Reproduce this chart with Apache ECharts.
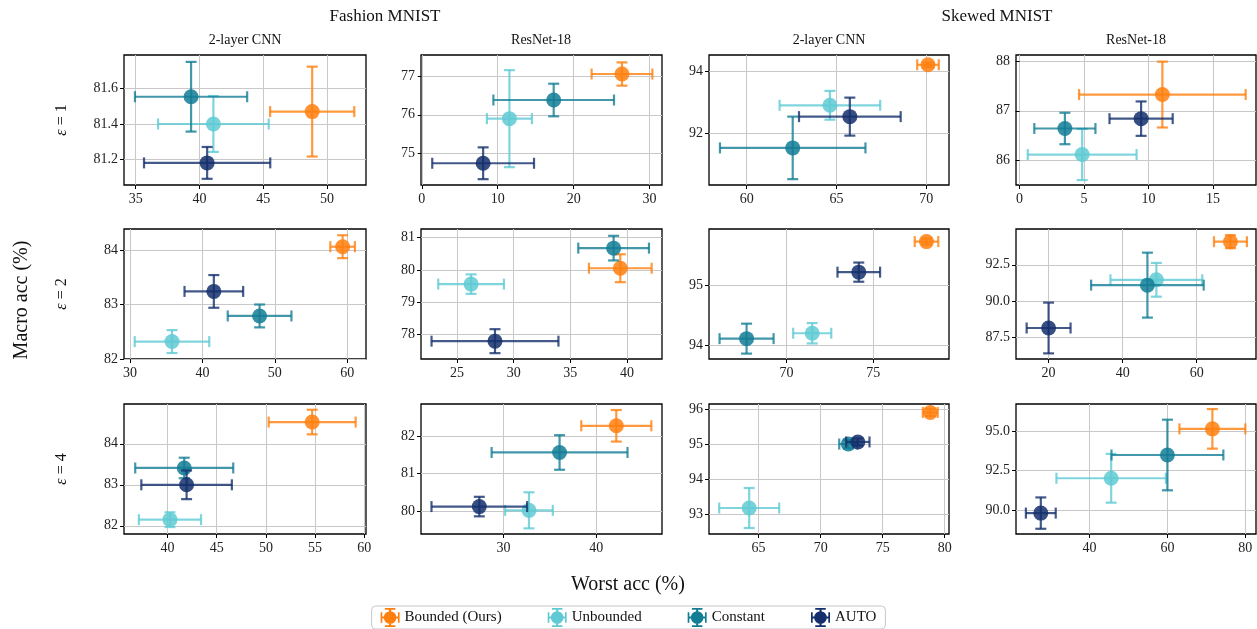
<!DOCTYPE html>
<html>
<head>
<meta charset="utf-8">
<script src="https://cdn.jsdelivr.net/npm/echarts@6/dist/echarts.min.js"></script>
<style>
  html, body { margin: 0; padding: 0; background: #fff; }
  #main { width: 1257px; height: 629px; }
</style>
</head>
<body>
<div id="main"></div>
<script>
// panels go row by row: eps = 1, 2, 4; columns FM-CNN, FM-ResNet, SK-CNN, SK-ResNet
var methods = ['Bounded (Ours)', 'Unbounded', 'Constant', 'AUTO'];
var datasets = ['Fashion MNIST', 'Skewed MNIST'];
var models = ['2-layer CNN', 'ResNet-18', '2-layer CNN', 'ResNet-18'];
var epsilons = ['1', '2', '4'];

// [worst acc, macro acc, worst acc err, macro acc err]
var bounded = [
  [48.84, 81.47, 3.30, 0.254], [26.36, 77.05, 4.00, 0.30], [70.09, 94.22, 0.60, 0.08], [11.07, 87.33, 6.46, 0.67],
  [59.37, 84.06, 1.70, 0.21], [39.41, 80.05, 2.77, 0.43], [78.08, 95.73, 0.68, 0.05], [69.10, 94.10, 4.45, 0.45],
  [54.70, 84.53, 4.42, 0.30], [42.16, 82.27, 3.78, 0.42], [78.84, 95.90, 0.60, 0.10], [71.54, 95.13, 8.46, 1.25]
];
var unbounded = [
  [41.09, 81.40, 4.34, 0.158], [11.54, 75.90, 2.96, 1.25], [64.63, 92.90, 2.80, 0.47], [4.85, 86.11, 4.22, 0.52],
  [35.80, 82.32, 5.15, 0.21], [26.24, 79.56, 2.90, 0.30], [71.48, 94.20, 1.10, 0.17], [49.10, 91.46, 12.4, 1.17],
  [40.25, 82.15, 3.16, 0.18], [32.74, 80.02, 2.57, 0.48], [64.24, 93.18, 2.42, 0.57], [45.56, 92.01, 14.05, 1.54]
];
var constant = [
  [39.34, 81.554, 4.40, 0.197], [17.37, 76.38, 7.94, 0.42], [62.56, 91.51, 4.05, 1.02], [3.51, 86.64, 2.37, 0.32],
  [47.90, 82.79, 4.40, 0.21], [38.82, 80.67, 3.12, 0.38], [67.69, 94.11, 1.56, 0.25], [46.68, 91.09, 15.2, 2.25],
  [41.70, 83.41, 4.98, 0.25], [36.04, 81.56, 7.33, 0.46], [72.23, 95.00, 0.73, 0.12], [60.00, 93.48, 14.36, 2.23]
];
var auto = [
  [40.60, 81.18, 4.95, 0.09], [8.08, 74.75, 6.70, 0.41], [65.74, 92.53, 2.83, 0.62], [9.42, 86.84, 2.45, 0.35],
  [41.58, 83.24, 4.05, 0.30], [28.35, 77.80, 5.60, 0.37], [74.17, 95.22, 1.23, 0.16], [20.00, 88.12, 5.93, 1.76],
  [41.94, 83.00, 4.60, 0.35], [27.38, 80.12, 5.16, 0.26], [73.00, 95.06, 0.94, 0.10], [27.50, 89.81, 3.83, 0.99]
];

var xRanges = [
  [34.08, 53.06], [-0.1, 31.63], [57.9, 71.26], [-0.28, 18.33],
  [29.17, 62.6], [21.82, 43.09], [65.52, 79.38], [11.2, 76.0],
  [35.58, 60.17], [21.09, 47.09], [61.0, 80.35], [21.13, 82.74]
];
var yRanges = [
  [81.055, 81.79], [74.19, 77.54], [90.30, 94.54], [85.49, 88.135],
  [82.0, 84.385], [77.25, 81.26], [93.77, 95.94], [85.97, 94.98],
  [81.8, 84.97], [79.39, 82.85], [92.44, 96.14], [88.49, 96.7]
];
var xTicks = [
  [35, 40, 45, 50], [0, 10, 20, 30], [60, 65, 70], [0, 5, 10, 15],
  [30, 40, 50, 60], [25, 30, 35, 40], [70, 75], [20, 40, 60],
  [40, 45, 50, 55, 60], [30, 40], [65, 70, 75, 80], [40, 60, 80]
];
var yTicks = [
  [81.2, 81.4, 81.6], [75, 76, 77], [92, 94], [86, 87, 88],
  [82, 83, 84], [78, 79, 80, 81], [94, 95], [87.5, 90, 92.5],
  [82, 83, 84], [80, 81, 82], [93, 94, 95, 96], [90, 92.5, 95]
];
var yDecimals = [1, 0, 0, 0, 0, 0, 0, 1, 0, 0, 0, 1];

var allData = [bounded, unbounded, constant, auto];
var colors = ['#ff7f0e', '#5fcad4', '#137d95', '#142f6c'];
var FONT = "'Liberation Serif', 'DejaVu Serif', serif";

var colLeft = [124, 421, 709, 1016];
var colWidth = [242, 241, 240, 240];
var rowTop = [55, 229, 404];
var rowHeight = 130;

function renderErrorBar(params, api) {
  var x = api.value(0), y = api.value(1), xe = api.value(2), ye = api.value(3);
  var c = api.coord([x, y]);
  var l = api.coord([x - xe, y])[0], r = api.coord([x + xe, y])[0];
  var t = api.coord([x, y + ye])[1], b = api.coord([x, y - ye])[1];
  var color = api.visual('color');
  var cap = 5.5;
  var ls = { stroke: color, lineWidth: 2.2, opacity: 0.8 };
  function seg(x1, y1, x2, y2) {
    return { type: 'line', shape: { x1: x1, y1: y1, x2: x2, y2: y2 }, style: ls };
  }
  return {
    type: 'group',
    children: [
      seg(l, c[1], r, c[1]),
      seg(l, c[1] - cap, l, c[1] + cap),
      seg(r, c[1] - cap, r, c[1] + cap),
      seg(c[0], t, c[0], b),
      seg(c[0] - cap, t, c[0] + cap, t),
      seg(c[0] - cap, b, c[0] + cap, b),
      { type: 'circle', shape: { cx: c[0], cy: c[1], r: 7.5 }, style: { fill: color, opacity: 0.85 } }
    ]
  };
}

var grids = [], xAxes = [], yAxes = [], series = [];
for (var p = 0; p < 12; p++) {
  var row = Math.floor(p / 4), col = p % 4;
  grids.push({
    left: colLeft[col], top: rowTop[row], width: colWidth[col], height: rowHeight,
    show: true, borderColor: '#000', borderWidth: 1.3, backgroundColor: 'transparent'
  });
  var xi = xTicks[p][1] - xTicks[p][0];
  var yi = yTicks[p][1] - yTicks[p][0];
  xAxes.push({
    type: 'value', gridIndex: p, min: xRanges[p][0], max: xRanges[p][1],
    minInterval: xi, maxInterval: xi,
    axisLine: { show: false },
    axisTick: { show: true, length: 4, customValues: xTicks[p], lineStyle: { color: '#000', width: 1 } },
    axisLabel: { customValues: xTicks[p], margin: 7, color: '#222', fontFamily: FONT, fontSize: 14 },
    splitLine: { show: true, lineStyle: { color: '#c8c8c8', width: 1 } }
  });
  (function (dec) {
    yAxes.push({
      type: 'value', gridIndex: p, min: yRanges[p][0], max: yRanges[p][1],
      minInterval: yi, maxInterval: yi,
      axisLine: { show: false },
      axisTick: { show: true, length: 4, customValues: yTicks[p], lineStyle: { color: '#000', width: 1 } },
      axisLabel: {
        customValues: yTicks[p], margin: 6, color: '#222', fontFamily: FONT, fontSize: 14,
        formatter: function (v) { return dec ? v.toFixed(dec) : String(v); }
      },
      splitLine: { show: true, lineStyle: { color: '#c8c8c8', width: 1 } }
    });
  })(yDecimals[p]);
  for (var m = 0; m < methods.length; m++) {
    series.push({
      name: methods[m], type: 'custom', xAxisIndex: p, yAxisIndex: p,
      itemStyle: { color: colors[m] },
      renderItem: renderErrorBar,
      encode: { x: 0, y: 1 },
      data: [allData[m][p]],
      z: 2 + m,
      animation: false
    });
  }
}

function txt(x, y, s, size, rot) {
  return {
    type: 'text', x: x, y: y, rotation: rot || 0,
    style: {
      text: s, fontFamily: FONT, fontSize: size, fill: '#111',
      align: 'center', verticalAlign: 'middle',
      rich: { e: { fontStyle: 'italic', fontFamily: FONT, fontSize: size } }
    }
  };
}

var graphics = [
  txt(385, 17, datasets[0], 17),
  txt(997, 17, datasets[1], 17),
  txt(245, 40, models[0], 14),
  txt(541, 40, models[1], 14),
  txt(829, 40, models[2], 14),
  txt(1136, 40, models[3], 14),
  txt(22, 300, 'Macro acc (%)', 20, Math.PI / 2),
  txt(628, 585, 'Worst acc (%)', 20)
];
var rowCenters = [120, 294, 469];
for (var r = 0; r < 3; r++) {
  graphics.push(txt(62, rowCenters[r], '{e|ε} = ' + epsilons[r], 16, Math.PI / 2));
}

var iconPath = 'path://M1 9H19V11H1Z M1 5H2.6V15H1Z M17.4 5H19V15H17.4Z M9 1H11V19H9Z M5 1H15V2.6H5Z M5 17.4H15V19H5Z M16 10A6 6 0 1 1 4 10A6 6 0 1 1 16 10Z';

var chart = echarts.init(document.getElementById('main'));
chart.setOption({
  backgroundColor: '#fff',
  animation: false,
  grid: grids,
  xAxis: xAxes,
  yAxis: yAxes,
  series: series,
  graphic: graphics,
  legend: {
    data: methods.map(function (n) { return { name: n, icon: iconPath }; }),
    left: 'center', top: 606,
    itemWidth: 19, itemHeight: 19, itemGap: 46,
    borderColor: '#c8c8c8', borderWidth: 1, borderRadius: 4,
    padding: [2, 9],
    textStyle: { fontFamily: FONT, fontSize: 15, color: '#111' }
  }
});
</script>
</body>
</html>
